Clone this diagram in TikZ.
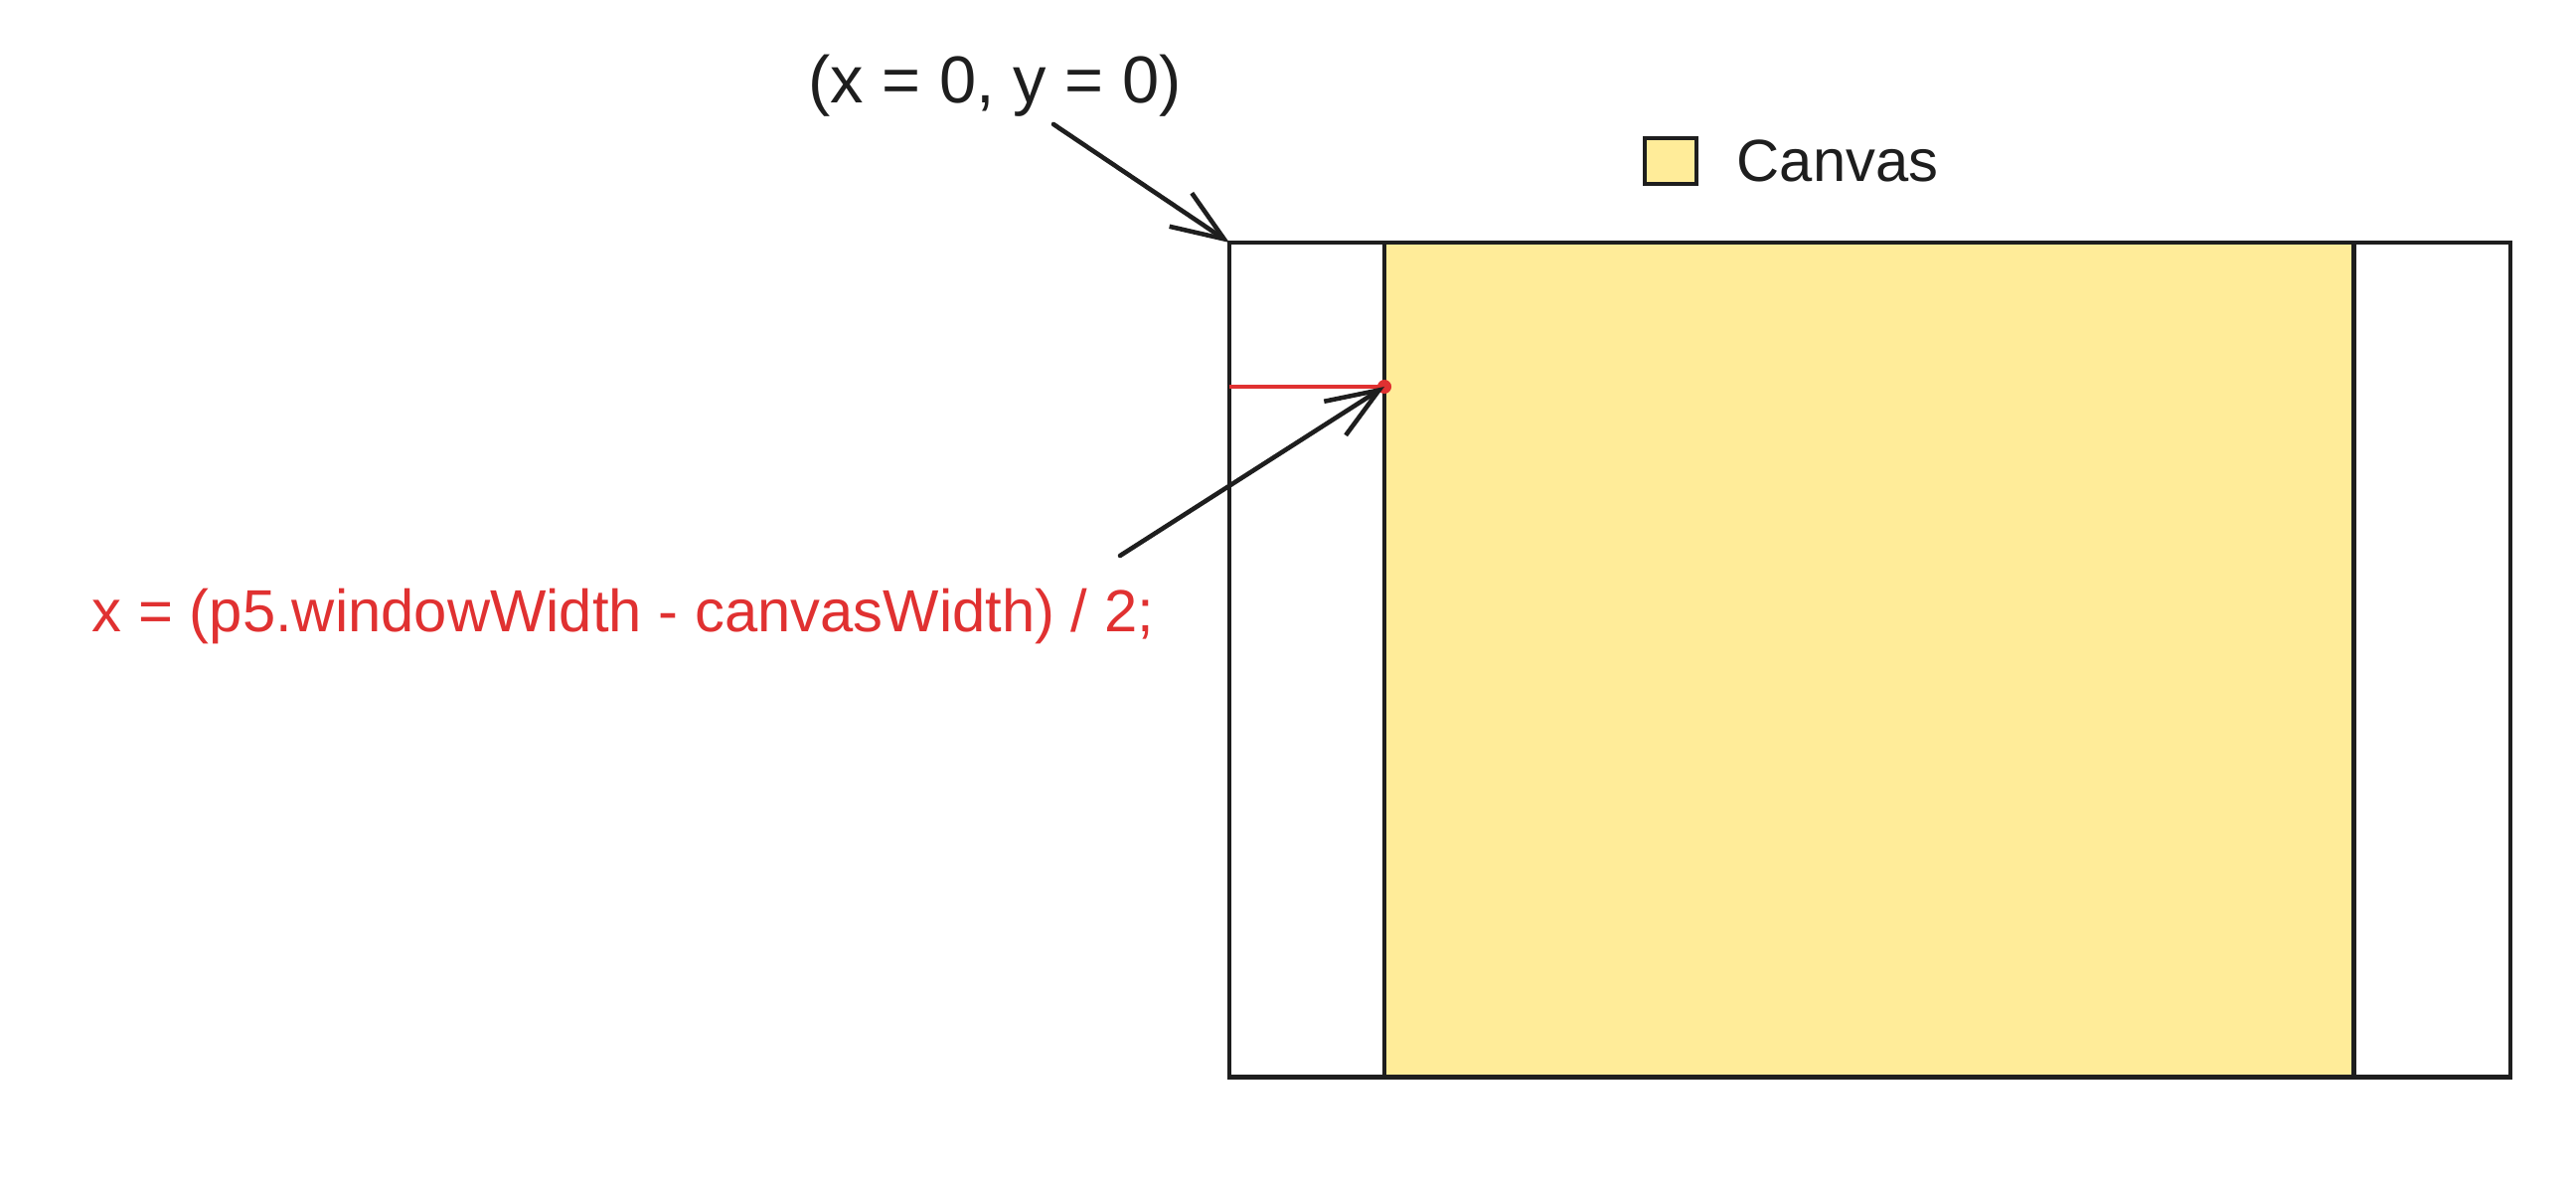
\documentclass[tikz,border=0pt]{standalone}
\usepackage{fontspec}
\setmainfont{Liberation Sans}
\usetikzlibrary{arrows.meta,positioning}
\definecolor{inkblack}{HTML}{1E1E1E}
\definecolor{inkred}{HTML}{E03131}
\definecolor{canvasyellow}{HTML}{FFEC99}
\begin{document}
\begin{tikzpicture}[
        x=0.01cm, y=-0.01cm,
        frame/.style={draw=inkblack, line width=1.3pt, inner sep=0pt, outer sep=0pt, anchor=north west},
        label/.style={font=\fontsize{17}{20}\selectfont, text=inkblack, inner sep=0pt},
        pointer/.style={-{Straight Barb[length=15pt, width=11.5pt]}, draw=inkblack, line width=1.3pt, line cap=round},
        node distance=1.1cm
    ]
    \useasboundingbox (0,0) rectangle (2592,1186);

    % window and canvas
    \node[frame, minimum width=12.88cm, minimum height=8.39cm] (window) at (1237,244) {};
    \node[frame, fill=canvasyellow, minimum width=9.75cm, minimum height=8.39cm] (canvas) at (1393,244) {};

    % legend
    \node[frame, fill=canvasyellow, minimum width=0.52cm, minimum height=0.46cm] (key) at (1655,139) {};
    \node[label, anchor=west, right=0.4cm of key] (keytext) {Canvas};

    % origin
    \node[label, font=\fontsize{19}{22}\selectfont] (origin) at (1001,86) {(x = 0, y = 0)};
    \coordinate (originfoot) at (1060,125);
    \draw[pointer] (originfoot) -- (window.north west);

    % offset
    \coordinate (offset) at (1393,389);
    \draw[inkred, line width=1.3pt] (window.west |- offset) -- (offset);
    \fill[inkred] (offset) circle (2pt);
    \node[label, text=inkred] (formula) at (627,620) {x = (p5.windowWidth - canvasWidth) / 2;};
    \coordinate (formulafoot) at (1127,559);
    \draw[pointer] (formulafoot) -- (offset);

\end{tikzpicture}
\end{document}
